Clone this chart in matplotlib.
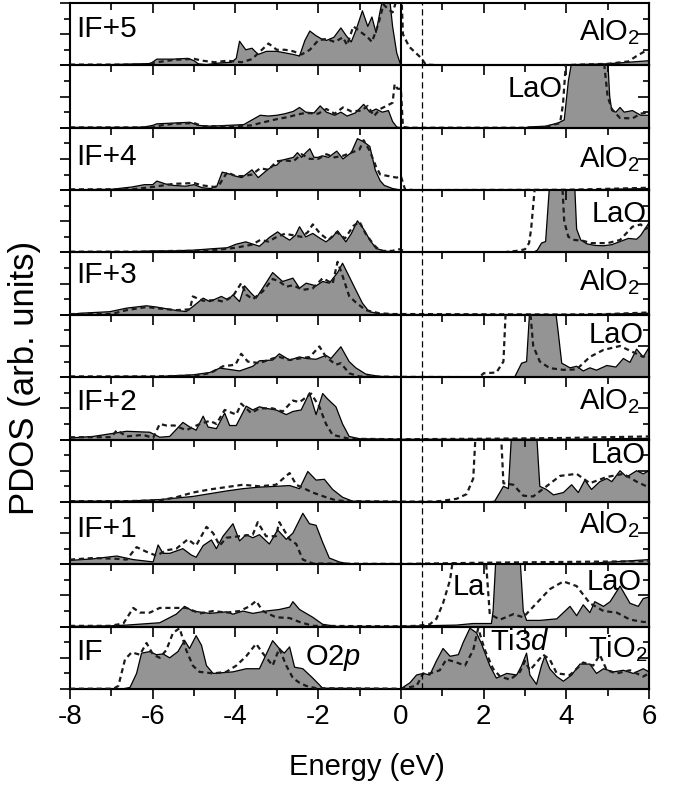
import numpy as np
import matplotlib
matplotlib.use('Agg')
import matplotlib.pyplot as plt
from matplotlib.ticker import MultipleLocator

plt.rcParams['font.family'] = ['Liberation Sans', 'DejaVu Sans']
plt.rcParams['mathtext.fontset'] = 'custom'
plt.rcParams['mathtext.rm'] = 'Liberation Sans'
plt.rcParams['mathtext.it'] = 'Liberation Sans:italic'
plt.rcParams['axes.unicode_minus'] = False

# (energy eV, PDOS); solid = filled curve, dashed = dashed curve
# panel 0: IF+5 AlO2
p0_solid = [(-8, 0.02), (-7, 0.05), (-6.6, 0.08), (-6.3, 0.1), (-6.05, 0.12), (-5.9, 0.4), (-5.5, 0.4), (-5.15, 0.45),
            (-5.0, 0.3), (-4.9, 0.1), (-4.7, 0.05), (-4.4, 0.15), (-4.1, 0.2), (-3.98, 0.45), (-3.9, 1.55), (-3.75, 1.0),
            (-3.6, 1.1), (-3.45, 0.7), (-3.25, 0.9), (-3.0, 0.9), (-2.8, 0.8), (-2.6, 0.7), (-2.45, 0.6), (-2.32, 1.6),
            (-2.2, 2.2), (-2.05, 1.9), (-1.92, 1.7), (-1.8, 1.6), (-1.62, 1.8), (-1.45, 2.4), (-1.32, 1.9), (-1.2, 1.5),
            (-1.08, 2.3), (-0.93, 3.5), (-0.8, 2.5), (-0.7, 3.1), (-0.6, 2.1), (-0.5, 3.5), (-0.42, 4.5), (-0.28, 4.5),
            (-0.2, 2.5), (-0.1, 0.8), (0, 0.0), (4.0, 0.0), (4.2, 0.05), (5.0, 0.1), (5.5, 0.2), (6.0, 0.3)]
p0_dash = [(-8, 0.05), (-6.2, 0.05), (-5.9, 0.2), (-5.5, 0.35), (-5.0, 0.42), (-4.8, 0.3), (-4.5, 0.2), (-4.2, 0.3),
           (-3.85, 0.2), (-3.6, 0.4), (-3.4, 0.9), (-3.2, 1.4), (-3.0, 1.0), (-2.8, 1.0), (-2.6, 0.9), (-2.4, 0.7),
           (-2.2, 1.0), (-2.0, 1.6), (-1.8, 1.7), (-1.6, 1.5), (-1.4, 1.8), (-1.3, 1.3), (-1.15, 2.5), (-1.0, 2.2),
           (-0.8, 1.8), (-0.7, 1.5), (-0.55, 2.6), (-0.42, 3.9), (-0.3, 3.6), (-0.2, 3.4), (-0.1, 4.2), (0.02, 4.2),
           (0.05, 2.0), (0.2, 1.2), (0.5, 0.45), (0.6, 0.05), (1.0, 0.0), (4.0, 0.02), (5.0, 0.1), (5.5, 0.25),
           (5.7, 0.6), (5.9, 0.9), (6.0, 0.85)]
# panel 1: LaO
p1_solid = [(-8, 0.02), (-6.5, 0.02), (-6.2, 0.05), (-6.0, 0.15), (-5.9, 0.25), (-5.5, 0.3), (-5.1, 0.35), (-4.9, 0.15),
            (-4.6, 0.1), (-4.2, 0.15), (-3.8, 0.2), (-3.6, 0.5), (-3.4, 0.8), (-3.2, 0.75), (-3.0, 0.8), (-2.8, 0.9),
            (-2.6, 1.05), (-2.45, 1.3), (-2.3, 1.0), (-2.1, 0.95), (-1.95, 1.4), (-1.8, 1.0), (-1.6, 0.8), (-1.45, 1.0),
            (-1.3, 0.75), (-1.1, 0.95), (-0.9, 1.5), (-0.75, 1.0), (-0.6, 1.2), (-0.45, 1.0), (-0.3, 1.1), (-0.2, 0.4),
            (-0.1, 0.05), (0, 0), (3.0, 0.0), (3.1, 0.05), (3.5, 0.1), (3.8, 0.3), (3.95, 0.5), (4.05, 3.0), (4.15, 4.5),
            (5.0, 4.5), (5.05, 2.0), (5.1, 1.1), (5.2, 1.0), (5.3, 1.3), (5.4, 1.0), (5.6, 1.1), (5.8, 0.8), (6.0, 0.8)]
p1_dash = [(-8, 0.02), (-6.0, 0.02), (-5.8, 0.15), (-5.5, 0.25), (-5.0, 0.3), (-4.8, 0.1), (-4.0, 0.1), (-3.6, 0.15),
           (-3.4, 0.3), (-3.0, 0.55), (-2.7, 0.7), (-2.5, 0.85), (-2.3, 0.95), (-2.0, 0.9), (-1.8, 1.2), (-1.6, 0.9),
           (-1.4, 1.3), (-1.2, 1.05), (-0.95, 1.1), (-0.8, 1.4), (-0.65, 0.75), (-0.5, 1.2), (-0.35, 1.4), (-0.2, 1.6),
           (-0.15, 2.8), (-0.08, 2.5), (0.0, 2.5), (0.05, 0.05), (0.2, 0.0), (3.4, 0.0), (3.5, 0.05), (3.7, 0.2),
           (3.85, 0.3), (3.92, 1.5), (4.0, 4.5), (4.9, 4.5), (5.0, 2.0), (5.1, 1.2), (5.3, 0.62), (5.6, 0.6),
           (5.8, 0.9), (6.0, 1.0)]
# panel 2: IF+4 AlO2
p2_solid = [(-8, 0.02), (-7, 0.05), (-6.5, 0.2), (-6.2, 0.35), (-6.0, 0.35), (-5.9, 0.58), (-5.7, 0.4), (-5.5, 0.3),
            (-5.2, 0.25), (-5.0, 0.35), (-4.8, 0.15), (-4.6, 0.1), (-4.45, 0.25), (-4.32, 1.15), (-4.1, 1.0), (-4.0, 0.9),
            (-3.85, 0.8), (-3.7, 1.1), (-3.6, 1.3), (-3.45, 0.8), (-3.25, 1.25), (-3.1, 1.55), (-3.0, 1.6), (-2.9, 1.9),
            (-2.75, 2.0), (-2.6, 2.1), (-2.5, 2.4), (-2.4, 2.1), (-2.3, 2.4), (-2.2, 2.65), (-2.1, 2.1), (-2.0, 2.1),
            (-1.9, 2.2), (-1.75, 2.1), (-1.55, 2.5), (-1.4, 2.0), (-1.2, 2.4), (-1.05, 3.3), (-0.9, 3.1), (-0.75, 2.8),
            (-0.62, 1.3), (-0.5, 0.6), (-0.4, 0.3), (-0.2, 0.1), (0, 0), (4.5, 0.0), (5.0, 0.05), (6.0, 0.1)]
p2_dash = [(-8, 0.05), (-6.5, 0.05), (-6.0, 0.2), (-5.5, 0.4), (-5.0, 0.45), (-4.8, 0.3), (-4.5, 0.2), (-4.4, 0.3),
           (-4.2, 1.15), (-4.0, 0.9), (-3.8, 0.9), (-3.6, 1.0), (-3.4, 1.4), (-3.2, 1.3), (-3.0, 1.85), (-2.8, 1.9),
           (-2.6, 1.85), (-2.4, 2.3), (-2.2, 2.0), (-2.0, 2.0), (-1.8, 2.3), (-1.6, 2.1), (-1.4, 2.2), (-1.2, 2.4),
           (-1.0, 2.6), (-0.9, 3.2), (-0.75, 2.5), (-0.6, 1.5), (-0.5, 1.0), (-0.3, 0.9), (-0.1, 0.8), (0.0, 0.9),
           (0.1, 0.05), (0.3, 0.0), (4.0, 0.02), (5.0, 0.08), (6.0, 0.15)]
# panel 3: LaO
p3_solid = [(-8, 0.02), (-7, 0.02), (-6.5, 0.05), (-6.0, 0.1), (-5.5, 0.1), (-5.0, 0.15), (-4.5, 0.25), (-4.2, 0.3),
            (-3.98, 0.53), (-3.75, 0.68), (-3.42, 0.4), (-3.18, 0.96), (-2.98, 1.32), (-2.85, 1.05), (-2.69, 0.79),
            (-2.55, 1.1), (-2.45, 1.65), (-2.3, 1.0), (-2.13, 1.22), (-1.95, 0.9), (-1.81, 0.68), (-1.65, 1.0),
            (-1.53, 1.39), (-1.33, 0.68), (-1.2, 1.2), (-1.05, 2.03), (-0.9, 1.5), (-0.75, 0.8), (-0.6, 0.26),
            (-0.4, 0.1), (-0.2, 0.03), (0, 0), (3.2, 0.0), (3.3, 0.15), (3.4, 0.6), (3.5, 0.7), (3.6, 4.5), (4.2, 4.5),
            (4.25, 1.5), (4.35, 0.8), (4.5, 0.55), (4.7, 0.45), (4.9, 0.43), (5.1, 0.5), (5.3, 0.7), (5.5, 0.9),
            (5.7, 0.85), (5.8, 1.1), (6.0, 1.9)]
p3_dash = [(-8, 0.05), (-6.0, 0.05), (-5.5, 0.1), (-5.0, 0.1), (-4.5, 0.15), (-4.0, 0.3), (-3.6, 0.5), (-3.4, 0.8),
           (-3.2, 0.7), (-3.0, 1.0), (-2.8, 1.2), (-2.6, 1.1), (-2.4, 1.0), (-2.25, 1.3), (-2.13, 1.8), (-1.95, 1.2),
           (-1.75, 0.8), (-1.55, 1.3), (-1.35, 0.9), (-1.15, 1.7), (-1.0, 1.97), (-0.85, 1.2), (-0.65, 0.47),
           (-0.5, 0.1), (-0.2, 0.1), (-0.1, 0.2), (0, 0.2), (0.1, 0.0), (2.5, 0.0), (2.6, 0.05), (2.8, 0.1), (3.0, 0.2),
           (3.1, 0.6), (3.15, 1.5), (3.25, 4.5), (3.9, 4.5), (3.95, 2.0), (4.05, 1.0), (4.2, 0.8), (4.4, 0.75),
           (4.6, 0.6), (5.0, 0.6), (5.3, 0.8), (5.6, 1.65), (5.8, 1.8), (5.9, 1.5), (6.0, 1.6)]
# panel 4: IF+3 AlO2
p4_solid = [(-8, 0.02), (-7.76, 0.1), (-7.04, 0.2), (-6.63, 0.43), (-6.15, 0.58), (-5.91, 0.5), (-5.43, 0.28),
            (-5.19, 0.21), (-5.03, 0.53), (-4.78, 1.07), (-4.62, 0.85), (-4.34, 1.18), (-4.18, 0.96), (-4.06, 1.28),
            (-3.9, 0.85), (-3.78, 1.86), (-3.62, 1.39), (-3.5, 1.07), (-3.34, 1.71), (-3.1, 2.71), (-2.86, 2.14),
            (-2.61, 2.35), (-2.45, 1.71), (-2.29, 2.03), (-2.05, 1.86), (-1.89, 2.14), (-1.73, 2.03), (-1.53, 2.71),
            (-1.41, 3.31), (-1.25, 2.46), (-1.09, 1.6), (-0.93, 0.75), (-0.77, 0.21), (-0.52, 0.06), (0, 0.02),
            (4.5, 0.02), (6.0, 0.1)]
p4_dash = [(-8, 0.05), (-7.0, 0.05), (-6.63, 0.3), (-6.15, 0.5), (-5.83, 0.4), (-5.43, 0.3), (-5.1, 0.35),
           (-5.03, 1.18), (-4.78, 0.9), (-4.46, 0.95), (-4.3, 0.85), (-4.06, 1.2), (-3.86, 2.03), (-3.74, 1.3),
           (-3.58, 1.0), (-3.34, 1.5), (-3.1, 2.3), (-2.94, 2.14), (-2.77, 1.8), (-2.61, 1.9), (-2.37, 1.6),
           (-2.13, 1.7), (-1.89, 2.35), (-1.65, 2.0), (-1.53, 3.4), (-1.41, 2.5), (-1.25, 1.2), (-1.09, 0.8),
           (-0.85, 0.3), (-0.52, 0.1), (-0.2, 0.05), (0, 0.05), (4.0, 0.02), (5.0, 0.05), (6.0, 0.15)]
# panel 5: LaO
p5_solid = [(-8, 0.02), (-6.5, 0.05), (-5.83, 0.05), (-5.03, 0.15), (-4.62, 0.3), (-4.38, 0.58), (-4.15, 0.5),
            (-3.9, 0.4), (-3.58, 0.7), (-3.42, 1.05), (-3.1, 1.1), (-2.94, 1.5), (-2.69, 1.1), (-2.45, 1.3),
            (-2.29, 1.2), (-2.05, 1.15), (-1.81, 1.4), (-1.69, 1.2), (-1.45, 1.95), (-1.25, 1.0), (-1.09, 0.6),
            (-0.85, 0.2), (-0.52, 0.05), (0, 0.02), (2.7, 0.0), (2.76, 0.05), (2.92, 0.9), (3.04, 1.0), (3.12, 4.5),
            (3.73, 4.5), (3.8, 3.0), (3.89, 0.9), (4.09, 0.6), (4.25, 0.7), (4.41, 0.4), (4.57, 0.6), (4.73, 0.45),
            (4.98, 0.75), (5.2, 0.65), (5.38, 1.2), (5.54, 0.95), (5.7, 1.8), (5.86, 1.3), (6.0, 1.9)]
p5_dash = [(-8, 0.05), (-6.0, 0.05), (-5.0, 0.1), (-4.62, 0.25), (-4.3, 0.7), (-4.0, 0.8), (-3.86, 1.5), (-3.7, 1.0),
           (-3.42, 0.9), (-3.1, 1.2), (-2.94, 1.3), (-2.69, 1.1), (-2.45, 1.2), (-2.2, 1.3), (-1.97, 1.97),
           (-1.81, 1.3), (-1.57, 0.8), (-1.45, 0.9), (-1.25, 0.25), (-1.0, 0.05), (0, 0.02), (1.9, 0.0), (2.0, 0.25),
           (2.31, 0.3), (2.48, 1.0), (2.54, 4.5), (3.12, 4.5), (3.2, 2.0), (3.36, 1.0), (3.6, 0.58), (3.93, 0.47),
           (4.25, 0.5), (4.57, 1.3), (4.9, 1.75), (5.3, 2.0), (5.62, 1.6), (5.86, 1.3), (6.0, 1.5)]
# panel 6: IF+2 AlO2
p6_solid = [(-8, 0.1), (-7.44, 0.2), (-6.63, 0.53), (-6.07, 0.47), (-5.83, 0.15), (-5.59, 0.2), (-5.27, 1.1),
            (-5.1, 0.8), (-4.95, 0.6), (-4.78, 1.5), (-4.66, 0.8), (-4.46, 0.7), (-4.26, 1.7), (-4.14, 0.9),
            (-3.98, 0.9), (-3.74, 2.14), (-3.58, 1.9), (-3.42, 2.1), (-3.26, 2.0), (-3.02, 1.9), (-2.77, 1.6),
            (-2.61, 1.8), (-2.41, 1.9), (-2.21, 3.0), (-2.05, 1.6), (-1.89, 2.95), (-1.77, 2.6), (-1.57, 2.1),
            (-1.41, 1.0), (-1.25, 0.2), (-1.0, 0.05), (0, 0.02), (4.0, 0.02), (6.0, 0.08)]
p6_dash = [(-8, 0.15), (-7.0, 0.15), (-6.87, 0.6), (-6.63, 0.2), (-6.23, 0.3), (-5.99, 0.1), (-5.83, 1.0),
           (-5.67, 0.9), (-5.47, 0.9), (-5.19, 0.6), (-4.86, 1.0), (-4.62, 1.2), (-4.46, 1.0), (-4.26, 1.9),
           (-3.98, 1.6), (-3.86, 2.3), (-3.62, 1.7), (-3.42, 2.0), (-3.1, 2.0), (-2.86, 1.8), (-2.61, 2.5),
           (-2.45, 2.4), (-2.17, 2.95), (-1.97, 2.1), (-1.81, 1.0), (-1.65, 0.3), (-1.49, 0.2), (-1.25, 0.05),
           (0, 0.02), (2.0, 0.05), (4.0, 0.1), (6.0, 0.2)]
# panel 7: LaO
p7_solid = [(-8, 0.05), (-6.63, 0.05), (-5.83, 0.15), (-5.03, 0.35), (-4.22, 0.7), (-3.82, 0.85), (-3.42, 0.95),
            (-3.02, 1.0), (-2.69, 1.05), (-2.45, 0.85), (-2.25, 1.95), (-2.05, 1.4), (-1.85, 1.45), (-1.65, 0.8),
            (-1.41, 0.3), (-1.17, 0.05), (0, 0.02), (2.2, 0.02), (2.27, 0.05), (2.48, 1.0), (2.6, 0.85), (2.68, 4.5),
            (3.28, 4.5), (3.36, 1.0), (3.52, 0.8), (3.69, 0.45), (3.93, 0.6), (4.13, 1.1), (4.29, 0.6), (4.45, 1.4),
            (4.61, 0.8), (4.81, 1.3), (4.98, 1.5), (5.1, 1.3), (5.3, 2.0), (5.46, 1.6), (5.7, 2.0), (5.86, 1.8),
            (6.0, 2.0)]
p7_dash = [(-8, 0.05), (-6.63, 0.05), (-5.83, 0.1), (-5.43, 0.3), (-5.03, 0.6), (-4.62, 0.8), (-3.82, 1.1),
           (-3.42, 1.0), (-3.02, 1.1), (-2.69, 1.85), (-2.53, 1.1), (-2.13, 0.6), (-1.81, 0.3), (-1.57, 0.1),
           (-1.33, 0.05), (0, 0.02), (0.8, 0.02), (0.94, 0.05), (1.35, 0.2), (1.59, 0.5), (1.75, 1.5), (1.81, 4.5),
           (2.42, 4.5), (2.48, 1.2), (2.72, 1.1), (2.96, 0.4), (3.2, 0.35), (3.52, 1.0), (3.85, 1.67), (4.25, 1.8),
           (4.57, 1.2), (4.98, 1.6), (5.38, 1.8), (5.7, 1.3), (5.94, 1.0), (6.0, 1.0)]
# panel 8: IF+1 AlO2
p8_solid = [(-8, 0.25), (-7.44, 0.35), (-6.87, 0.53), (-6.47, 0.3), (-5.99, 0.15), (-5.87, 1.24), (-5.75, 0.7),
            (-5.59, 0.7), (-5.27, 1.0), (-5.07, 0.6), (-4.95, 0.45), (-4.78, 1.2), (-4.58, 1.56), (-4.46, 1.0),
            (-4.3, 1.8), (-4.06, 2.6), (-3.9, 1.5), (-3.74, 1.9), (-3.58, 1.7), (-3.42, 1.9), (-3.18, 1.3),
            (-2.98, 2.2), (-2.77, 1.6), (-2.61, 2.0), (-2.37, 3.27), (-2.21, 2.6), (-2.05, 2.5), (-1.89, 1.4),
            (-1.73, 0.4), (-1.49, 0.15), (-1.25, 0.02), (0, 0.02), (4.5, 0.05), (6.0, 0.3)]
p8_dash = [(-8, 0.3), (-7.44, 0.4), (-6.87, 0.35), (-6.63, 0.3), (-6.39, 1.1), (-6.15, 0.8), (-5.91, 0.55),
           (-5.67, 0.9), (-5.43, 1.0), (-5.15, 1.6), (-4.95, 1.2), (-4.7, 2.4), (-4.54, 2.0), (-4.38, 1.2),
           (-4.22, 1.7), (-3.9, 1.8), (-3.58, 1.9), (-3.46, 2.7), (-3.26, 1.8), (-3.02, 1.8), (-2.94, 2.7),
           (-2.69, 1.6), (-2.53, 1.3), (-2.37, 0.3), (-2.13, 0.05), (0, 0.02), (2.0, 0.1), (4.0, 0.15), (6.0, 0.2)]
# panel 9: LaO
p9_solid = [(-8, 0.02), (-7.04, 0.05), (-6.63, 0.1), (-5.83, 0.25), (-5.43, 0.8), (-5.23, 1.3), (-5.03, 1.0),
            (-4.62, 0.85), (-4.22, 0.95), (-4.06, 0.8), (-3.82, 1.0), (-3.58, 0.85), (-3.26, 1.0), (-2.94, 1.1),
            (-2.69, 1.25), (-2.61, 1.6), (-2.45, 1.1), (-2.13, 0.6), (-1.89, 0.15), (-1.57, 0.02), (0, 0.02),
            (0.46, 0.05), (1.35, 0.1), (1.75, 0.2), (2.19, 0.2), (2.23, 1.0), (2.3, 4.5), (2.88, 4.5), (2.96, 1.0),
            (3.04, 0.4), (3.36, 0.4), (3.77, 0.5), (4.09, 1.3), (4.25, 0.7), (4.41, 1.4), (4.57, 0.9), (4.69, 1.6),
            (4.9, 1.3), (5.06, 1.6), (5.3, 2.6), (5.54, 1.5), (5.74, 1.3), (5.86, 1.8), (6.0, 1.9)]
p9_dash = [(-8, 0.05), (-7.04, 0.05), (-6.71, 0.2), (-6.47, 1.2), (-6.31, 0.9), (-6.07, 0.9), (-5.83, 1.2),
           (-5.43, 1.2), (-5.19, 1.2), (-4.86, 0.85), (-4.54, 1.0), (-4.22, 0.9), (-3.9, 1.0), (-3.66, 1.3),
           (-3.5, 1.65), (-3.34, 1.0), (-3.02, 0.6), (-2.69, 0.55), (-2.45, 0.3), (-2.13, 0.05), (0, 0.02),
           (0.38, 0.05), (0.7, 0.15), (0.86, 0.5), (1.02, 1.5), (1.19, 3.0), (1.27, 4.5), (2.05, 4.5), (2.15, 0.8),
           (2.4, 0.45), (2.72, 0.8), (2.96, 0.6), (3.28, 1.5), (3.6, 2.4), (3.93, 2.9), (4.25, 2.6), (4.57, 1.5),
           (4.9, 1.0), (5.22, 0.9), (5.54, 0.45), (5.86, 0.3), (6.0, 0.3)]
# panel 10: IF TiO2
p10_solid = [(-8, 0.02), (-6.7, 0.02), (-6.55, 0.1), (-6.39, 1.0), (-6.27, 2.3), (-6.07, 2.4), (-5.91, 2.2),
             (-5.75, 2.25), (-5.59, 2.0), (-5.39, 2.4), (-5.23, 3.12), (-5.11, 2.6), (-4.95, 3.42), (-4.82, 2.8),
             (-4.7, 1.5), (-4.54, 1.0), (-4.06, 1.1), (-3.74, 1.3), (-3.42, 1.3), (-3.26, 2.2), (-3.1, 3.1),
             (-2.94, 2.6), (-2.82, 2.3), (-2.69, 2.7), (-2.57, 1.4), (-2.37, 1.3), (-2.13, 0.7), (-1.89, 0.05),
             (0, 0.02), (0.22, 0.4), (0.38, 0.9), (0.54, 1.0), (0.7, 0.9), (0.86, 1.8), (1.02, 2.6), (1.19, 2.1),
             (1.39, 2.2), (1.51, 3.0), (1.67, 3.9), (1.83, 3.6), (1.95, 2.9), (2.15, 1.5), (2.31, 0.7), (2.56, 1.0),
             (2.8, 0.9), (2.92, 1.5), (3.04, 2.3), (3.12, 0.9), (3.28, 0.3), (3.4, 1.5), (3.48, 2.1), (3.6, 1.3),
             (3.77, 0.8), (3.93, 0.5), (4.13, 0.9), (4.33, 1.6), (4.57, 1.6), (4.73, 1.0), (4.9, 1.3), (5.14, 1.1),
             (5.38, 1.2), (5.62, 1.0), (5.86, 1.3), (6.0, 1.1)]
p10_dash = [(-8, 0.02), (-6.95, 0.02), (-6.83, 0.2), (-6.67, 1.9), (-6.51, 2.35), (-6.31, 2.2), (-6.15, 2.95),
            (-5.99, 2.2), (-5.83, 2.0), (-5.67, 2.5), (-5.51, 3.6), (-5.35, 3.9), (-5.19, 2.5), (-5.03, 1.5),
            (-4.87, 1.1), (-4.54, 1.0), (-4.22, 1.1), (-3.98, 1.5), (-3.74, 2.1), (-3.5, 2.9), (-3.34, 2.3),
            (-3.1, 1.5), (-2.94, 2.6), (-2.77, 1.5), (-2.61, 0.7), (-2.45, 0.4), (-2.29, 0.2), (-2.05, 0.05),
            (0, 0.02), (0.38, 0.2), (0.54, 1.0), (0.7, 1.0), (0.94, 1.2), (1.1, 1.9), (1.35, 1.7), (1.55, 1.5),
            (1.75, 2.5), (1.87, 3.9), (2.03, 2.5), (2.23, 1.3), (2.4, 0.8), (2.64, 0.6), (2.88, 1.1), (3.0, 1.8),
            (3.12, 1.2), (3.28, 1.7), (3.44, 2.2), (3.6, 1.9), (3.77, 1.0), (4.09, 0.9), (4.41, 1.7), (4.65, 1.5),
            (4.81, 2.2), (4.98, 1.2), (5.22, 1.0), (5.54, 1.2), (5.86, 0.8), (6.0, 1.0)]

solid_curves = [p0_solid, p1_solid, p2_solid, p3_solid, p4_solid, p5_solid,
                p6_solid, p7_solid, p8_solid, p9_solid, p10_solid]
dash_curves = [p0_dash, p1_dash, p2_dash, p3_dash, p4_dash, p5_dash,
               p6_dash, p7_dash, p8_dash, p9_dash, p10_dash]

# layer labels (left) and species labels (right), with their panel index
layer_labels = {0: ('IF+5', 1.82), 2: ('IF+4', 1.6), 4: ('IF+3', 2.05), 6: ('IF+2', 1.9),
                8: ('IF+1', 1.76), 10: ('IF', 1.86)}
species_labels = [(0, 'AlO$_2$', 5.78, 1.63, 'right'), (2, 'AlO$_2$', 5.78, 1.47, 'right'),
                  (4, 'AlO$_2$', 5.78, 1.6, 'right'), (6, 'AlO$_2$', 5.78, 1.92, 'right'),
                  (8, 'AlO$_2$', 5.78, 2.0, 'right'),
                  (1, 'LaO', 3.91, 2.0, 'right'), (3, 'LaO', 5.95, 1.95, 'right'),
                  (5, 'LaO', 5.88, 2.2, 'right'), (7, 'LaO', 5.92, 2.5, 'right'),
                  (9, 'LaO', 5.82, 2.37, 'right'), (9, 'La', 1.26, 2.05, 'left'),
                  (10, 'O$\\mathit{2p}$', -2.32, 1.55, 'left'), (10, 'Ti$\\mathit{3d}$', 2.15, 2.5, 'left'),
                  (10, 'TiO$_2$', 5.97, 2.05, 'right')]

energy_ticks = np.arange(-8, 7, 2)
energy_minor = np.arange(-8, 7, 1)

fill_col = '#949494'
fs = 21

fig, axes = plt.subplots(11, 1, figsize=(6.76, 7.85), dpi=100, sharex=True)
fig.subplots_adjust(left=70/676, right=649/676, top=1-3/785, bottom=1-689/785, hspace=0)

for i, ax in enumerate(axes):
    ax.patch.set_visible(False)
    s = np.array(solid_curves[i])
    d = np.array(dash_curves[i])
    ax.fill_between(s[:, 0], 0, s[:, 1], facecolor=fill_col, edgecolor='none', zorder=1)
    ax.plot(s[:, 0], s[:, 1], color='black', lw=0.9, zorder=2)
    ax.plot(d[:, 0], d[:, 1], color='#1a1a1a', lw=1.6, ls=(0, (2.3, 1.7)), zorder=3)
    ax.axvline(0, color='black', lw=1.5, zorder=4)
    ax.axvline(0.5, color='black', lw=0.9, ls=(0, (5, 3)), zorder=4)
    ax.set_xlim(-8, 6)
    ax.set_ylim(0, 4)
    for sp in ax.spines.values():
        sp.set_linewidth(1.5)
    ax.set_xticks(energy_ticks)
    ax.set_xticks(energy_minor, minor=True)
    ax.yaxis.set_major_locator(MultipleLocator(2))
    ax.yaxis.set_minor_locator(MultipleLocator(1))
    ax.tick_params(axis='x', which='both', direction='in', top=True, bottom=False,
                   labelbottom=False, width=1.2)
    ax.tick_params(axis='x', which='major', length=7)
    ax.tick_params(axis='x', which='minor', length=5)
    ax.tick_params(axis='y', which='both', direction='out', left=True, right=False,
                   labelleft=False, width=1.2)
    ax.tick_params(axis='y', which='major', length=7)
    ax.tick_params(axis='y', which='minor', length=4)
    sec = ax.secondary_yaxis('right')
    sec.yaxis.set_major_locator(MultipleLocator(2))
    sec.yaxis.set_minor_locator(MultipleLocator(1))
    sec.tick_params(which='both', direction='in', labelright=False, width=1.2)
    sec.tick_params(which='major', length=8)
    sec.tick_params(which='minor', length=4.5)
    sec.spines['right'].set_linewidth(1.5)

    if i in layer_labels:
        txt, yb = layer_labels[i]
        ax.text(-7.85, yb, txt, fontsize=fs + 0.5, ha='left', va='baseline', zorder=6)

for i, txt, xx, yy, ha in species_labels:
    axes[i].text(xx, yy, txt, fontsize=fs, ha=ha, va='baseline', zorder=6)

bot = axes[-1].secondary_xaxis('bottom')
bot.set_xticks(energy_ticks)
bot.set_xticks(energy_minor, minor=True)
bot.tick_params(which='both', direction='out', width=1.2, labelsize=20, pad=4)
bot.tick_params(which='major', length=7)
bot.tick_params(which='minor', length=5)
bot.spines['bottom'].set_linewidth(1.5)

fig.text(367/676, 1-767/785, 'Energy (eV)', fontsize=21, ha='center', va='center')
fig.text(25/676, 1-378/785, 'PDOS (arb. units)', fontsize=25, ha='center', va='center', rotation=90)

fig.savefig('out.png', dpi=100)
